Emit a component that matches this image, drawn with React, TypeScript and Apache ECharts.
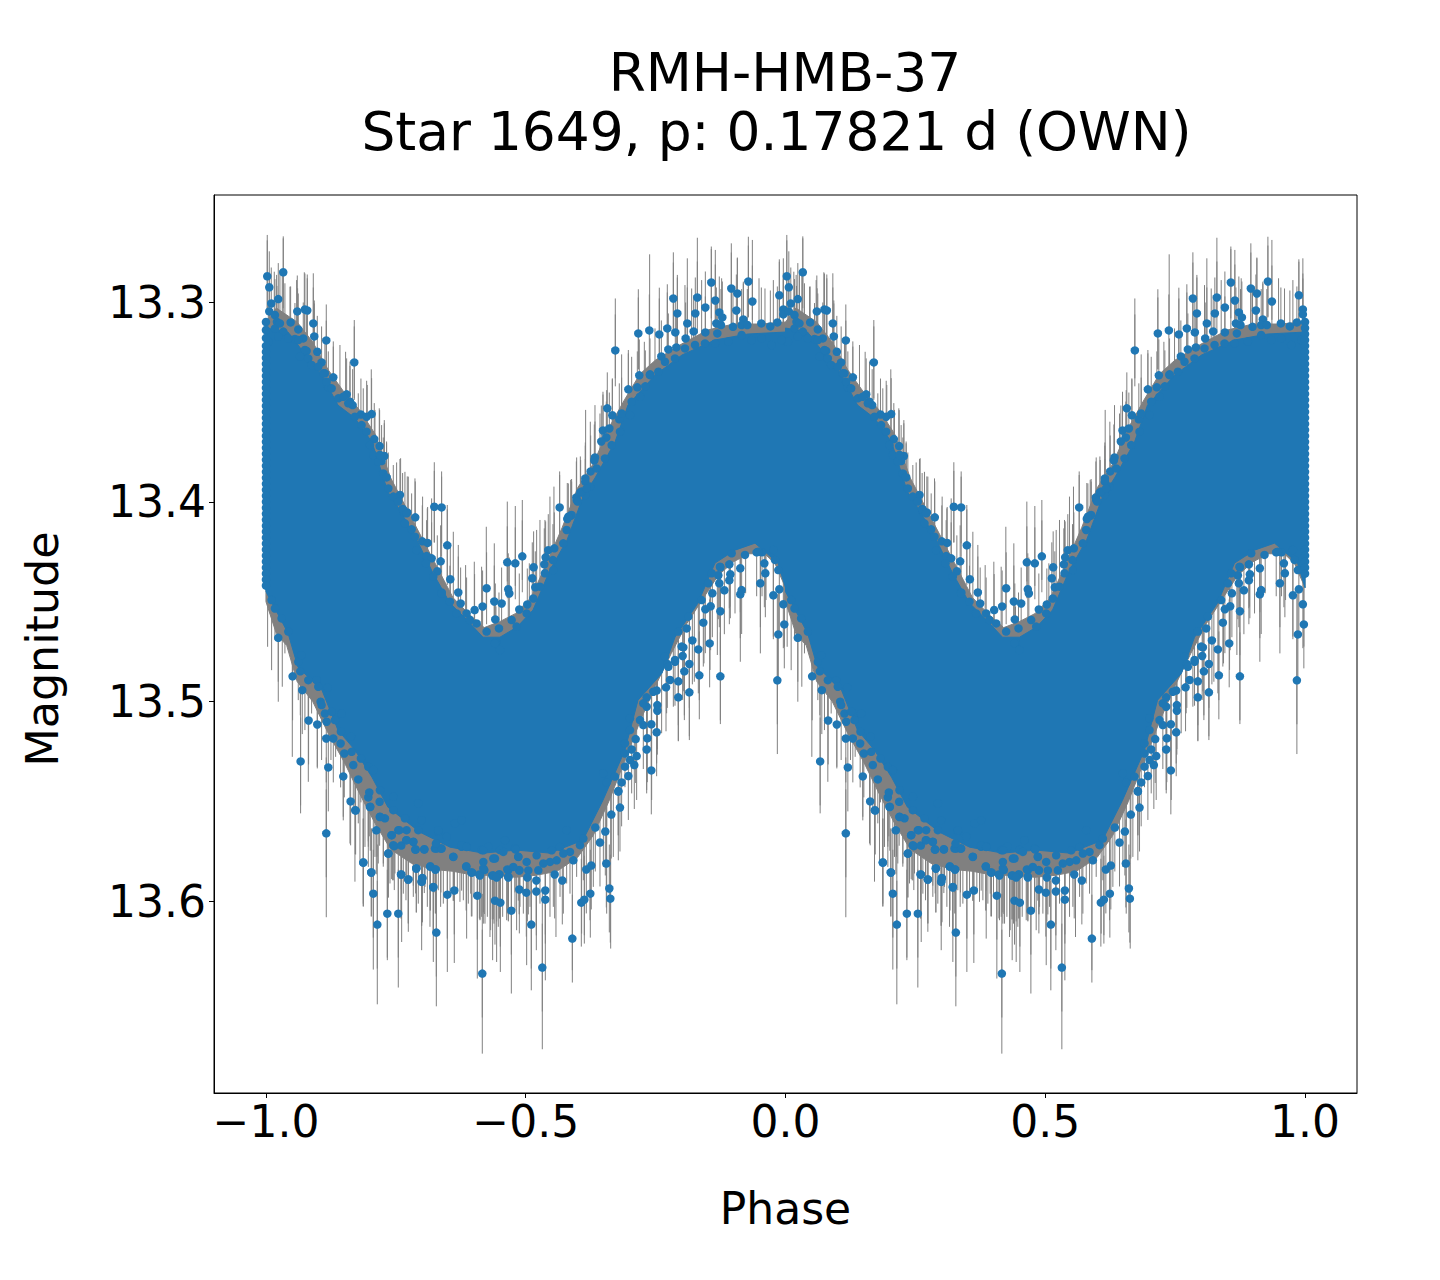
import React, { useEffect, useRef } from "react";
import * as echarts from "echarts";

const TITLE_LINE_1 = "RMH-HMB-37";
const TITLE_LINE_2 = "Star 1649, p: 0.17821 d (OWN)";
const X_NAME = "Phase";
const Y_NAME = "Magnitude";
const xTicks = [-1, -0.5, 0, 0.5, 1];
const yTicks = [13.3, 13.4, 13.5, 13.6];
const foldOffsets = [0, 1];
const upperErr = 0.018;
const lowerErr = 0.022;
const upperSpikeLength = 0.04;
const lowerSpikeLength = 0.08;

const bandUpper = [[-1,13.313],[-0.9576,13.315],[-0.9249,13.326],[-0.8922,13.3366],[-0.8614,13.3516],[-0.8287,13.3581],[-0.7959,13.3701],[-0.7652,13.3951],[-0.7421,13.4042],[-0.7093,13.4192],[-0.6785,13.4357],[-0.6458,13.4507],[-0.613,13.4592],[-0.5823,13.4678],[-0.5496,13.4678],[-0.5168,13.4627],[-0.486,13.4542],[-0.4533,13.4342],[-0.4206,13.4192],[-0.3898,13.3976],[-0.3667,13.3881],[-0.3282,13.3701],[-0.3032,13.3516],[-0.2512,13.3366],[-0.1992,13.3265],[-0.1357,13.319],[-0.0722,13.316],[0,13.315]];
const bandLower = [[-1,13.445],[-0.9576,13.4657],[-0.9384,13.4828],[-0.8922,13.4943],[-0.8614,13.5143],[-0.8287,13.5243],[-0.7959,13.5379],[-0.7652,13.5529],[-0.7036,13.5654],[-0.6458,13.5729],[-0.5823,13.5759],[-0.5168,13.5744],[-0.4533,13.5759],[-0.3898,13.5694],[-0.3513,13.5494],[-0.309,13.5243],[-0.2839,13.4993],[-0.2377,13.4858],[-0.2127,13.4678],[-0.1684,13.4507],[-0.1357,13.4307],[-0.0972,13.4242],[-0.0587,13.4207],[-0.0144,13.4307],[0,13.443]];
const greyUpper = [[-1,13.31],[-0.98,13.303],[-0.94,13.31],[-0.91,13.32],[-0.88,13.334],[-0.85,13.345],[-0.82,13.354],[-0.79,13.366],[-0.76,13.388],[-0.73,13.403],[-0.7,13.418],[-0.67,13.433],[-0.64,13.448],[-0.61,13.456],[-0.58,13.463],[-0.55,13.46],[-0.52,13.456],[-0.49,13.448],[-0.46,13.431],[-0.43,13.413],[-0.4,13.393],[-0.37,13.381],[-0.34,13.363],[-0.31,13.349],[-0.28,13.336],[-0.25,13.329],[-0.2,13.321],[-0.15,13.314],[-0.1,13.311],[-0.05,13.311],[0,13.31]];
const greyLower = [[-1,13.45],[-0.98,13.466],[-0.96,13.472],[-0.94,13.49],[-0.91,13.5],[-0.88,13.516],[-0.85,13.53],[-0.82,13.546],[-0.79,13.561],[-0.76,13.574],[-0.72,13.581],[-0.68,13.584],[-0.64,13.585],[-0.6,13.587],[-0.56,13.587],[-0.52,13.588],[-0.48,13.587],[-0.44,13.585],[-0.4,13.578],[-0.37,13.567],[-0.34,13.55],[-0.31,13.53],[-0.28,13.51],[-0.25,13.492],[-0.22,13.476],[-0.19,13.461],[-0.16,13.449],[-0.13,13.437],[-0.1,13.43],[-0.07,13.426],[-0.04,13.426],[-0.02,13.431],[0,13.443]];

const upperDots = [[-0.9975,13.2871],[-0.9667,13.2851],[-0.9936,13.2926],[-0.9898,13.3007],[-0.9763,13.2985],[-0.9936,13.3047],[-0.9827,13.3065],[-0.9397,13.3047],[-0.925,13.3037],[-0.9205,13.3042],[-0.9789,13.3099],[-0.9525,13.3102],[-0.9089,13.3107],[-0.9378,13.3137],[-0.907,13.3172],[-0.8839,13.3192],[-0.9955,13.3199],[-0.9282,13.3182],[-0.9442,13.3185],[-0.9217,13.3245],[-0.9012,13.3249],[-0.83,13.3302],[-0.8929,13.3302],[-0.8704,13.3377],[-0.8865,13.3357],[-0.88,13.3427],[-0.8447,13.3462],[-0.8383,13.3499],[-0.8332,13.3516],[-0.7966,13.3561],[-0.8172,13.3563],[-0.8062,13.3574],[-0.7915,13.3686],[-0.7812,13.3721],[-0.7722,13.3771],[-0.7774,13.3796],[-0.7742,13.3858],[-0.7678,13.3878],[-0.7645,13.3933],[-0.7421,13.3966],[-0.7485,13.3983],[-0.737,13.4036],[-0.728,13.4053],[-0.7126,13.4078],[-0.676,13.4025],[-0.6619,13.4028],
[-0.4347,13.4028],[-0.3276,13.3242],[-0.2833,13.3157],[-0.2621,13.3142],[-0.2429,13.3162],[-0.2275,13.3132],[-0.2159,13.2982],[-0.2082,13.3057],[-0.2121,13.3152],[-0.189,13.3107],[-0.1697,13.2977],[-0.1736,13.3057],[-0.1543,13.3027],[-0.1428,13.2902],[-0.1351,13.2992],[-0.1274,13.3052],[-0.1216,13.3077],[-0.1331,13.3107],[-0.1543,13.3152],[-0.1768,13.3147],[-0.1922,13.3182],[-0.1043,13.2932],[-0.0927,13.2957],[-0.0715,13.2897],[-0.0638,13.2997],[-0.0946,13.3042],[-0.0812,13.3087],[-0.1011,13.3124],[-0.1242,13.3115],[-0.1312,13.3157],[-0.0844,13.3115],[-0.0735,13.3115],[-0.0465,13.3107],[-0.0292,13.3122],[-0.0157,13.3102],[-0.0119,13.2966],[-0.0042,13.3037],[-0.0042,13.3062],[-0.2814,13.3367],[-0.3025,13.3437],[-0.2852,13.3427],[-0.2698,13.3422],[-0.343,13.3532],[-0.3333,13.3567],[-0.3513,13.3643],[-0.3391,13.3633],[-0.3449,13.3678],[-0.3545,13.3698],[-0.3667,13.3778],[-0.368,13.3793],[-0.375,13.3848],[-0.3853,13.3883],[-0.3853,13.3899],[-0.4026,13.3978],[-0.3949,13.3953],[-0.3853,13.3966],[-0.3199,13.3587],[-0.3154,13.3558],[-0.239,13.3272],[-0.2255,13.3237],[-0.2101,13.3227],[-0.2608,13.3362],[-0.42,13.4086],[-0.4135,13.407],
[-0.7196,13.4138],[-0.6991,13.4198],[-0.6888,13.4206],[-0.651,13.4218],[-0.6638,13.4298],[-0.6908,13.4272],[-0.6811,13.4283],[-0.6702,13.4348],[-0.6452,13.4388],[-0.6298,13.4454],[-0.6619,13.4454],[-0.6459,13.45],[-0.6253,13.4509],[-0.6138,13.4559],[-0.5984,13.4542],[-0.583,13.4524],[-0.5753,13.4433],[-0.5605,13.4499],[-0.5464,13.4509],[-0.5336,13.4438],[-0.5316,13.4459],[-0.5355,13.4303],[-0.5201,13.4308],[-0.5066,13.4273],[-0.4848,13.4328],[-0.4874,13.4383],[-0.4816,13.4428],[-0.5124,13.4539],[-0.497,13.4514],[-0.5586,13.4589],[-0.5515,13.4634],[-0.5573,13.4704],[-0.4617,13.4278],[-0.4566,13.4242],[-0.445,13.4233],[-0.4643,13.4313],[-0.4476,13.4292],[-0.4117,13.4066]];

const lowerDots = [[-0.9763,13.4681],[-0.9487,13.4874],[-0.9339,13.4849],[-0.9301,13.4943],[-0.9185,13.4893],[-0.9179,13.5095],[-0.9012,13.5115],[-0.9333,13.53],[-0.8839,13.5185],[-0.8704,13.5185],[-0.8563,13.521],[-0.8492,13.526],[-0.88,13.533],[-0.8839,13.566],[-0.8512,13.5375],[-0.8223,13.539],[-0.8319,13.5318],[-0.8172,13.5285],[-0.837,13.55],[-0.8281,13.5544],[-0.7992,13.5527],[-0.803,13.548],[-0.8011,13.5455],[-0.7812,13.5502],[-0.7876,13.5645],[-0.8127,13.5806],[-0.7973,13.5856],[-0.7645,13.5761],[-0.7581,13.5669],[-0.753,13.5724],[-0.7395,13.5721],[-0.7299,13.5694],[-0.7164,13.5702],[-0.7119,13.5741],[-0.6952,13.5739],[-0.7106,13.5836],[-0.7395,13.5866],[-0.726,13.5891],[-0.6991,13.5886],[-0.7004,13.5902],[-0.6779,13.5928],[-0.6837,13.5826],[-0.6741,13.5841],[-0.6394,13.5777],[-0.6747,13.5736],[-0.6632,13.5736],[-0.6234,13.5727],[-0.6138,13.5727],[-0.6144,13.5826],[-0.6035,13.5856],[-0.5881,13.5871],[-0.5797,13.5844],[-0.5644,13.5871],[-0.5509,13.5866],[-0.5335,13.5844],[-0.5335,13.5877],[-0.5592,13.5786],[-0.5143,13.5777],[-0.5124,13.5844],[-0.5207,13.5736],
[-0.8274,13.5546],[-0.8126,13.5806],[-0.7972,13.5856],[-0.7934,13.5962],[-0.7857,13.6117],[-0.7664,13.6062],[-0.7453,13.6062],[-0.7645,13.5761],[-0.7401,13.5866],[-0.726,13.5891],[-0.7106,13.5836],[-0.7003,13.5903],[-0.6991,13.5883],[-0.6779,13.5931],[-0.6721,13.6157],[-0.6837,13.5826],[-0.6734,13.5841],[-0.6509,13.5967],[-0.6375,13.5946],[-0.6394,13.5778],[-0.6144,13.5826],[-0.5932,13.5972],[-0.5836,13.6362],[-0.6047,13.5856],[-0.5893,13.5866],[-0.5816,13.5836],[-0.5592,13.5997],[-0.5489,13.6007],[-0.5277,13.6047],[-0.5624,13.5871],[-0.5508,13.5866],[-0.556,13.5881],[-0.5354,13.5841],[-0.5335,13.5881],[-0.5123,13.5941],[-0.5123,13.5846],[-0.495,13.5846],[-0.4969,13.5881],[-0.4989,13.5957],[-0.4893,13.6117],[-0.4796,13.5951],[-0.4796,13.5896],[-0.4681,13.6332],[-0.4623,13.5946],[-0.4623,13.5992],[-0.4443,13.5866],[-0.4296,13.5896],[-0.4103,13.6187],[-0.393,13.6007],[-0.3872,13.5992],[-0.3757,13.5962],[-0.3834,13.5841],[-0.3738,13.5821],[-0.3449,13.5811],[-0.3391,13.5936],[-0.3372,13.5987],[-0.3571,13.5706],[-0.3468,13.5651],[-0.3661,13.5631],[-0.3353,13.5566],[-0.3186,13.5531],[-0.3218,13.5451],
[-0.2583,13.5345],[-0.2672,13.524],[-0.266,13.5184],[-0.248,13.5154],[-0.2583,13.5114],[-0.2467,13.5046],[-0.2467,13.5018],[-0.2672,13.4979],[-0.2737,13.5118],[-0.2865,13.5273],[-0.291,13.5318],[-0.3025,13.5373],[-0.3154,13.5405],[-0.3218,13.5448],[-0.3442,13.5405],[-0.2884,13.5188],[-0.2961,13.524],[-0.309,13.5209],[-0.2063,13.4979],[-0.1851,13.4954],[-0.2063,13.4899],[-0.23,13.4929],[-0.248,13.4945],[-0.1947,13.4849],[-0.1851,13.4812],[-0.1659,13.4869],[-0.146,13.4709],[-0.1678,13.4739],[-0.1793,13.4694],[-0.1582,13.4605],[-0.1967,13.4729],[-0.198,13.4772],[-0.2127,13.4801],[-0.2275,13.4812],[-0.1254,13.4874],[-0.1254,13.4548],[-0.1441,13.4523],[-0.1543,13.4538],[-0.1408,13.4458],[-0.1177,13.4443],[-0.1274,13.4408],[-0.1081,13.4393],[-0.1062,13.4363],[-0.1293,13.4368],[-0.1254,13.4328],[-0.1081,13.4313],[-0.087,13.4333],[-0.087,13.4463],[-0.0844,13.4442],[-0.0484,13.4408],[-0.0388,13.4358],[-0.0407,13.4308],[-0.0555,13.4253],[-0.0452,13.4253],[-0.0234,13.4468],[-0.0138,13.4664],[-0.0023,13.4614],[-0.0042,13.4513],[-0.0119,13.4438],[-0.0157,13.4894]];

const upperRimDots = [[-0.9827,13.3132],[-0.9731,13.3107],[-0.9667,13.3148],[-0.957,13.3182],[-0.9763,13.3173],[-0.9378,13.319],[-0.925,13.324],[-0.9346,13.3273],[-0.9185,13.3282],[-0.9121,13.3315],[-0.8993,13.3324],[-0.8897,13.3357],[-0.8832,13.3399],[-0.8736,13.3432],[-0.8608,13.3482],[-0.8512,13.3474],[-0.8415,13.3507],[-0.8287,13.3574],[-0.8159,13.3616],[-0.8063,13.3649],[-0.7998,13.3716],[-0.7934,13.3766],[-0.7838,13.3799],[-0.7806,13.3766],[-0.7549,13.3974],[-0.7453,13.3999],[-0.7357,13.405],[-0.7357,13.4041],[-0.7293,13.4058],[-0.7325,13.4108],[-0.7132,13.4175],[-0.71,13.4242],[-0.692,13.4308],[-0.6779,13.4375],[-0.6619,13.4459],[-0.633,13.4559],[-0.6074,13.4592],[-0.5945,13.4609],[-0.5753,13.465],[-0.5592,13.4709],[-0.5496,13.4742],[-0.5271,13.4592],[-0.5175,13.4625],[-0.4983,13.4559],[-0.4854,13.4484],[-0.4726,13.4425],[-0.463,13.4358],[-0.447,13.4342],[-0.4277,13.4208],[-0.4213,13.4141],[-0.4181,13.4075],[-0.402,13.3991],[-0.3924,13.3949],[-0.3764,13.3924],[-0.4,13.3999],[-0.3827,13.3933],[-0.3635,13.3833],[-0.3475,13.3783],[-0.3346,13.3716],[-0.3186,13.3649],[-0.2993,13.3566],[-0.2961,13.3499],[-0.2801,13.3474],[-0.2608,13.3366],[-0.2448,13.3349],[-0.232,13.3299],[-0.2127,13.3282],[-0.1935,13.3232],[-0.1742,13.3215],[-0.155,13.3207],[-0.1357,13.3207],[-0.11,13.3198],[-0.0844,13.3165],[-0.0651,13.319],[-0.0459,13.3182],[-0.0266,13.3215],[-0.0074,13.319]];

const lowerRimDots = [[-0.9891,13.4492],[-0.9827,13.4534],[-0.9699,13.4584],[-0.957,13.465],[-0.9378,13.4801],[-0.9314,13.4768],[-0.9025,13.4893],[-0.8993,13.4926],[-0.8813,13.4931],[-0.8948,13.5001],[-0.8929,13.5018],[-0.8865,13.506],[-0.8736,13.5051],[-0.8544,13.506],[-0.8832,13.5101],[-0.8672,13.5093],[-0.8557,13.5151],[-0.8364,13.5176],[-0.8351,13.5252],[-0.803,13.5327],[-0.7934,13.5343],[-0.7806,13.5444],[-0.7549,13.5477],[-0.7325,13.5585],[-0.7806,13.5577],[-0.771,13.5585],[-0.7549,13.5544],[-0.7068,13.551],[-0.7004,13.5594],[-0.7453,13.5644],[-0.7293,13.5644],[-0.7068,13.5644],[-0.6683,13.5652],[-0.6522,13.5677],[-0.6362,13.561],[-0.6234,13.5594],[-0.5849,13.5744],[-0.5721,13.5727],[-0.5496,13.5744],[-0.54,13.5694],
[-0.7998,13.5528],[-0.7806,13.5578],[-0.7581,13.5669],[-0.7549,13.5719],[-0.7433,13.5644],[-0.7292,13.5694],[-0.7164,13.5703],[-0.7125,13.5741],[-0.6952,13.5741],[-0.6715,13.5736],[-0.6619,13.5736],[-0.6728,13.5711],[-0.6683,13.5644],[-0.6234,13.5719],[-0.6137,13.5728],[-0.5816,13.5745],[-0.5624,13.5786],[-0.5431,13.5753],[-0.5194,13.5741],[-0.5143,13.5778],[-0.4982,13.5803],[-0.479,13.577],[-0.4501,13.5745],[-0.434,13.5728],[-0.4148,13.5753],[-0.3956,13.5719],[-0.3891,13.5686],[-0.4212,13.5644],[-0.4533,13.5803],[-0.4662,13.5811],[-0.4758,13.5845],[-0.5816,13.5803],[-0.5239,13.5828],[-0.4405,13.5795],[-0.4084,13.5795],[-0.4276,13.5761],
[-0.3507,13.536],[-0.3282,13.5376],[-0.309,13.5326],[-0.2993,13.5293],[-0.309,13.526],[-0.2993,13.5143],[-0.2993,13.5084],[-0.2801,13.5093],[-0.2672,13.5026],[-0.2737,13.5009],[-0.2544,13.4951],[-0.2223,13.4892],[-0.2256,13.4826],[-0.2127,13.4792],[-0.232,13.4775],[-0.1999,13.4725],[-0.2063,13.465],[-0.1903,13.4634],[-0.187,13.4575],[-0.1614,13.4492],[-0.1485,13.4408],[-0.1421,13.4358],[-0.1261,13.4325],[-0.1036,13.4258],[-0.078,13.4266],[-0.0523,13.425],[-0.0234,13.4241],[-0.0138,13.4342],[-0.0202,13.4291]];

const leftColumnMags = [13.31,13.314,13.318,13.322,13.325,13.328,13.331,13.334,13.337,13.34,13.343,13.346,13.349,13.352,13.355,13.358,13.361,13.364,13.367,13.37,13.373,13.376,13.379,13.382,13.385,13.388,13.391,13.394,13.397,13.4,13.403,13.406,13.409,13.412,13.415,13.418,13.421,13.424,13.427,13.43,13.433,13.436,13.439,13.442];
const rightColumnMags = [13.31,13.313,13.316,13.319,13.322,13.325,13.328,13.331,13.334,13.337,13.34,13.343,13.346,13.349,13.352,13.355,13.358,13.361,13.364,13.367,13.37,13.373,13.376,13.379,13.382,13.385,13.388,13.391,13.394,13.397,13.4,13.403,13.406,13.409,13.412,13.415,13.418,13.421,13.424,13.427,13.43,13.433,13.436];

const upperSpikes = [[-0.9975,13.2664],[-0.9667,13.2681],[-0.984,13.2848],[-0.9795,13.2864],[-0.9731,13.284],[-0.9686,13.2848],[-0.9635,13.2906],[-0.9538,13.2923],[-0.941,13.289],[-0.9391,13.2931],[-0.9262,13.2851],[-0.9205,13.2881],[-0.9089,13.2856],[-0.907,13.3007],[-0.8839,13.3093],[-0.8704,13.3223],[-0.8576,13.3215],[-0.8467,13.3249],[-0.8383,13.3298],[-0.83,13.309],[-0.8223,13.3457],[-0.8127,13.3432],[-0.805,13.3415],[-0.7973,13.3337],[-0.7902,13.354],[-0.7819,13.3532],[-0.7722,13.3607],[-0.7678,13.3707],[-0.7549,13.3816],[-0.7408,13.3782],[-0.7325,13.385],[-0.726,13.3874],[-0.7132,13.3883],[-0.6985,13.3974],[-0.6895,13.4033],[-0.6811,13.3983],[-0.676,13.3802],[-0.6619,13.3874],[-0.651,13.4016],[-0.6394,13.415],[-0.6298,13.4216],[-0.6157,13.4317],[-0.599,13.43],[-0.5849,13.4325],[-0.5759,13.4125],[-0.5605,13.4208],[-0.5355,13.3999],[-0.5201,13.4021],[-0.5066,13.3991],[-0.4931,13.4308],[-0.479,13.4141],[-0.4726,13.4091],[-0.463,13.4091],[-0.4534,13.3974],[-0.4457,13.3924],[-0.4347,13.3866],[-0.418,13.3908],[-0.4116,13.3899],[-0.402,13.3778],[-0.3943,13.3791],[-0.3847,13.354],[-0.3757,13.3599],[-0.3667,13.3516],[-0.3571,13.3558],[-0.3513,13.3449],[-0.3442,13.3441],[-0.3333,13.3382],[-0.3276,13.2982],[-0.3154,13.3262],[-0.3025,13.324],[-0.2961,13.3274],[-0.2833,13.2936],[-0.2717,13.3199],[-0.2615,13.2761],[-0.2512,13.3132],[-0.2429,13.2928],[-0.2275,13.2911],[-0.2159,13.2751],[-0.2082,13.2864],[-0.1935,13.2915],[-0.189,13.2781],[-0.1806,13.2932],[-0.1697,13.2678],[-0.1614,13.289],[-0.1428,13.2735],[-0.1351,13.2739],[-0.1229,13.2881],[-0.1043,13.2706],[-0.0927,13.2781],[-0.0812,13.2898],[-0.0715,13.2673],[-0.0638,13.2689],[-0.051,13.2881],[-0.0395,13.2932],[-0.0234,13.289],[-0.0119,13.2798],[-0.0042,13.2781]];

const lowerSpikes = [[-0.9968,13.4726],[-0.9891,13.4843],[-0.9827,13.4692],[-0.9763,13.5001],[-0.9686,13.4926],[-0.9635,13.4759],[-0.9558,13.4692],[-0.9493,13.5277],[-0.9378,13.4993],[-0.9333,13.556],[-0.925,13.5143],[-0.9185,13.5402],[-0.9121,13.506],[-0.9012,13.5327],[-0.8929,13.5293],[-0.8839,13.608],[-0.8749,13.5293],[-0.8659,13.5277],[-0.8512,13.5577],[-0.8383,13.5711],[-0.8287,13.5902],[-0.8127,13.6012],[-0.803,13.5727],[-0.7934,13.6342],[-0.7864,13.5777],[-0.7857,13.6516],[-0.7742,13.5827],[-0.7664,13.6295],[-0.7549,13.5895],[-0.7453,13.6432],[-0.7388,13.6204],[-0.726,13.6153],[-0.7003,13.6245],[-0.6843,13.6128],[-0.6779,13.6304],[-0.6721,13.6526],[-0.6509,13.6354],[-0.6375,13.6309],[-0.6137,13.6187],[-0.5932,13.6387],[-0.5836,13.6763],[-0.5816,13.6112],[-0.5688,13.6179],[-0.5637,13.6295],[-0.556,13.6304],[-0.5489,13.6354],[-0.5277,13.6462],[-0.5175,13.6145],[-0.4982,13.632],[-0.4893,13.6446],[-0.4796,13.6245],[-0.4681,13.6741],[-0.4623,13.6396],[-0.4418,13.6179],[-0.4276,13.6062],[-0.4103,13.6345],[-0.3924,13.6162],[-0.3872,13.617],[-0.3763,13.6095],[-0.3442,13.6062],[-0.3365,13.6237],[-0.3218,13.5795],[-0.2672,13.5443],[-0.2576,13.5493],[-0.248,13.531],[-0.2384,13.5159],[-0.2288,13.5059],[-0.2159,13.5026],[-0.2063,13.5196],[-0.1947,13.5093],[-0.1851,13.5193],[-0.1755,13.4901],[-0.1659,13.4993],[-0.1569,13.4809],[-0.1453,13.4842],[-0.1312,13.4767],[-0.1254,13.5113],[-0.1068,13.4525],[-0.0972,13.4559],[-0.087,13.4801],[-0.0767,13.4458],[-0.0484,13.4759],[-0.0375,13.4492],[-0.0234,13.4675],[-0.0157,13.5263],[-0.0023,13.4725]];

const denseLowerSpikes = [[-0.8191,13.5795],[-0.8094,13.5728],[-0.803,13.5828],[-0.7902,13.5778],[-0.7838,13.5811],[-0.7741,13.5811],[-0.7613,13.5911],[-0.7562,13.5895],[-0.7517,13.5861],[-0.7356,13.5962],[-0.7305,13.5995],[-0.7164,13.5978],[-0.7068,13.6012],[-0.6939,13.5928],[-0.6894,13.6028],[-0.6683,13.5945],[-0.6638,13.6028],[-0.6586,13.6012],[-0.6458,13.5978],[-0.6317,13.5962],[-0.6266,13.6003],[-0.6201,13.5995],[-0.6105,13.6012],[-0.606,13.5962],[-0.5996,13.5978],[-0.5881,13.6095],[-0.5848,13.6078],[-0.5784,13.6112],[-0.5739,13.6078],[-0.5675,13.6145],[-0.5611,13.6112],[-0.5528,13.6128],[-0.5444,13.6078],[-0.5367,13.6095],[-0.5207,13.6045],[-0.511,13.6028],[-0.5046,13.6062],[-0.4918,13.6028],[-0.4726,13.6012],[-0.4533,13.6078],[-0.4469,13.6028],[-0.434,13.5978],[-0.4212,13.5911],[-0.4148,13.5962],[-0.402,13.5878],[-0.3891,13.5895],[-0.3699,13.5928],[-0.3506,13.5828],[-0.3314,13.5778]];

const BLUE = "#1f77b4";
const GREY = "#808080";
const FONT = "DejaVu Sans";

function polygonSeries(upper: number[][], lower: number[][], color: string, z: number) {
  const polys = foldOffsets.map((o) => [
    ...upper.map(([p, m]) => [p + o, m]),
    ...[...lower].reverse().map(([p, m]) => [p + o, m]),
  ]);
  return {
    type: "custom",
    silent: true,
    z,
    data: polys.map((_, i) => [i]),
    encode: { x: [], y: [] },
    renderItem: (params: any, api: any) => ({
      type: "polygon",
      shape: { points: polys[params.dataIndex].map((pt) => api.coord(pt)) },
      style: { fill: color, stroke: color, lineWidth: 1 },
    }),
  };
}

const shifted = (pts: number[][]) => foldOffsets.flatMap((o) => pts.map(([p, m]) => [p + o, m]));

export default function App() {
  const ref = useRef<HTMLDivElement>(null);
  useEffect(() => {
    const chart = echarts.init(ref.current!, undefined, { renderer: "svg" });

    const bars: number[][] = [];
    shifted(upperDots).forEach(([x, y]) => bars.push([x, y - upperErr, y + upperErr]));
    shifted(lowerDots).forEach(([x, y]) => bars.push([x, y - lowerErr, y + lowerErr]));
    shifted(upperSpikes).forEach(([x, y]) => bars.push([x, y, y + upperSpikeLength]));
    shifted(lowerSpikes).forEach(([x, y]) => bars.push([x, y - lowerSpikeLength, y]));
    shifted(denseLowerSpikes).forEach(([x, y]) => bars.push([x, y - lowerSpikeLength, y]));

    const edgeDots = [
      ...leftColumnMags.map((m) => [-1, m]),
      ...rightColumnMags.map((m) => [1, m]),
    ];

    const textBlock = (text: string, x: number, y: number, size: number, rotation = 0) => ({
      type: "text",
      x,
      y,
      rotation,
      silent: true,
      style: { text, font: `${size}px "${FONT}"`, fill: "#000", textAlign: "center", textVerticalAlign: "middle" },
    });

    chart.setOption({
      animation: false,
      backgroundColor: "#ffffff",
      textStyle: { fontFamily: FONT },
      graphic: [
        textBlock(TITLE_LINE_1, 785, 72, 53.4),
        textBlock(TITLE_LINE_2, 776.5, 131, 53.4),
        textBlock(Y_NAME, 42, 649, 44.4, Math.PI / 2),
      ],
      grid: {
        left: 214,
        top: 195,
        width: 1143,
        height: 898,
        show: true,
        borderColor: "#000",
        borderWidth: 1,
        backgroundColor: "#fff",
      },
      xAxis: {
        type: "value",
        min: -1.1,
        max: 1.1,
        name: X_NAME,
        nameLocation: "middle",
        nameGap: 93,
        nameTextStyle: { fontFamily: FONT, fontSize: 44, color: "#000" },
        axisLine: { show: true, onZero: false, lineStyle: { color: "#000", width: 1 } },
        axisTick: { show: true, length: 5, customValues: xTicks, lineStyle: { color: "#000", width: 1 } },
        axisLabel: {
          customValues: xTicks,
          fontFamily: FONT,
          fontSize: 44,
          color: "#000",
          margin: 6,
          formatter: (v: number) => (v < 0 ? "\u2212" : "") + Math.abs(v).toFixed(1),
        },
        splitLine: { show: false },
      },
      yAxis: {
        type: "value",
        inverse: true,
        min: 13.2464,
        max: 13.696,
        axisLine: { show: true, onZero: false, lineStyle: { color: "#000", width: 1 } },
        axisTick: { show: true, length: 5, customValues: yTicks, lineStyle: { color: "#000", width: 1 } },
        axisLabel: {
          customValues: yTicks,
          fontFamily: FONT,
          fontSize: 44,
          color: "#000",
          margin: 8,
          padding: [0, 0, 3, 0],
          formatter: (v: number) => v.toFixed(1),
        },
        splitLine: { show: false },
      },
      series: [
        polygonSeries(greyUpper, greyLower, GREY, 1),
        {
          type: "custom",
          silent: true,
          z: 2,
          data: bars,
          encode: { x: 0, y: [1, 2] },
          renderItem: (_: any, api: any) => {
            const a = api.coord([api.value(0), api.value(1)]);
            const b = api.coord([api.value(0), api.value(2)]);
            return {
              type: "line",
              shape: { x1: a[0], y1: a[1], x2: b[0], y2: b[1] },
              style: { stroke: GREY, lineWidth: 1 },
            };
          },
        },
        polygonSeries(bandUpper, bandLower, BLUE, 3),
        {
          type: "scatter",
          silent: true,
          z: 4,
          symbol: "circle",
          symbolSize: 8.5,
          itemStyle: { color: BLUE, opacity: 1 },
          data: [
            ...shifted(upperDots),
            ...shifted(lowerDots),
            ...shifted(upperRimDots),
            ...shifted(lowerRimDots),
            ...edgeDots,
          ],
        },
      ],
    });
    return () => chart.dispose();
  }, []);
  return (
    <div
      ref={ref}
      style={{ position: "absolute", left: 0, top: 0, width: 1440, height: 1280 }}
    />
  );
}
